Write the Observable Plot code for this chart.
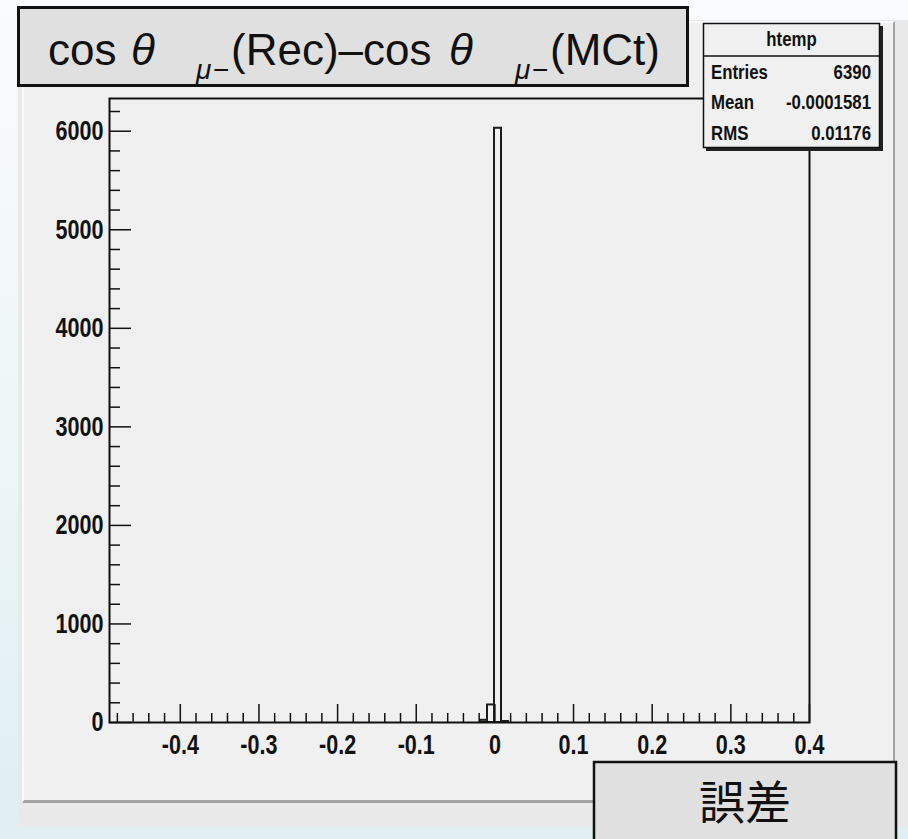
<!DOCTYPE html>
<html>
<head>
<meta charset="utf-8">
<script src="https://cdn.jsdelivr.net/npm/d3@7"></script>
<script src="https://cdn.jsdelivr.net/npm/@observablehq/plot@0.6"></script>
<style>
  html, body { margin: 0; padding: 0; }
  #root {
    position: relative; width: 908px; height: 839px; overflow: hidden;
    background: linear-gradient(to bottom, #f9fbfc 0%, #eef6f8 50%, #dfeef2 100%);
    font-family: "Liberation Sans", Arial, sans-serif;
  }
  #win { position: absolute; left: 18px; top: 20px; width: 890px; height: 807px; background: #e9e9e9; }
  #panel {
    position: absolute; left: 22px; top: 21px; width: 873px; height: 782px; box-sizing: border-box;
    background: #f0f0f0; border-left: 2px solid #fafafa; border-top: 2px solid #fafafa;
    border-right: 2px solid #a4a4a4; border-bottom: 3px solid #a4a4a4;
  }
  #chart { position: absolute; left: 0; top: 0; }
  #deco { position: absolute; left: 0; top: 0; pointer-events: none; }
</style>
</head>
<body>
<div id="root">
  <div id="win"></div>
  <div id="panel"></div>
  <div id="chart"></div>
  <svg id="deco" width="908" height="839"></svg>
</div>
<script>
// ---- data ----
const binLow  = [-0.0183, -0.0094, -0.0005, 0.0084];
const binHigh = [-0.0094, -0.0005,  0.0084, 0.0173];
const binCount = [22, 178, 6030, 10];

const xMajorTicks = [-0.4, -0.3, -0.2, -0.1, 0, 0.1, 0.2, 0.3, 0.4];
const yMajorTicks = [0, 1000, 2000, 3000, 4000, 5000, 6000];

const statsTitle = "htemp";
const statsLabels = ["Entries", "Mean", "RMS"];
const statsValues = ["6390", "-0.0001581", "0.01176"];

const boxLabel = "誤差";

// ---- build ----
const bins = binLow.map((lo, i) => ({x1: lo, x2: binHigh[i], count: binCount[i]}));
const xMinorTicks = d3.range(-48, 41, 2).map(v => v / 100).filter(v => Math.abs(v * 10 - Math.round(v * 10)) > 1e-9);
const yMinorTicks = d3.range(0, 6201, 200).filter(v => v % 1000 !== 0);

const W = 908, H = 839, mL = 109, mT = 98, mR = 99, mB = 117;
const fw = W - mL - mR, fh = H - mT - mB;
const ink = "#111";
const boldFont = '"Liberation Sans", Arial, sans-serif';

function squeeze(el, k) {
  const L = el.getComputedTextLength();
  el.setAttribute("textLength", (L * k).toFixed(2));
  el.setAttribute("lengthAdjust", "spacingAndGlyphs");
}

const chart = Plot.plot({
  width: W, height: H,
  marginLeft: mL, marginTop: mT, marginRight: mR, marginBottom: mB,
  style: { background: "transparent", fontFamily: boldFont, fontSize: "28px", fontWeight: "bold", color: ink },
  x: { domain: [-0.49, 0.40] },
  y: { domain: [0, 6332] },
  marks: [
    Plot.rect(bins, { x1: "x1", x2: "x2", y1: 0, y2: "count", fill: "none", stroke: "#1c1c1c", strokeWidth: 2 }),
    Plot.ruleX(xMinorTicks, { stroke: ink, strokeWidth: 1.5, insetTop: fh - 9 }),
    Plot.ruleX(xMajorTicks, { stroke: ink, strokeWidth: 1.5, insetTop: fh - 18 }),
    Plot.ruleY(yMinorTicks, { stroke: ink, strokeWidth: 1.5, insetRight: fw - 11 }),
    Plot.ruleY(yMajorTicks, { stroke: ink, strokeWidth: 1.5, insetRight: fw - 22 }),
    Plot.frame({ stroke: ink, strokeWidth: 2 }),
    Plot.axisX(xMajorTicks, { label: null, tickSize: 0, tickPadding: 12, tickFormat: d => String(d), fill: ink }),
    Plot.axisY(yMajorTicks, { label: null, tickSize: 0, tickPadding: 6, tickFormat: d => String(d), fill: ink })
  ]
});
document.getElementById("chart").appendChild(chart);
chart.querySelectorAll("text").forEach(t => { if (t.textContent.trim()) squeeze(t, 0.77); });

// ---- decorations: title box, stats box, label box ----
const deco = d3.select("#deco");

// title box
deco.append("rect").attr("x", 18.5).attr("y", 7.5).attr("width", 669).attr("height", 78)
  .attr("fill", "#e0e0e0").attr("stroke", ink).attr("stroke-width", 3);
const tg = deco.append("g").attr("font-family", '"Liberation Sans", Arial, sans-serif').attr("fill", ink);
const titleParts = [
  {t: "cos", x: 48, y: 65, s: 44},
  {t: "θ", x: 131, y: 65, s: 44, i: true},
  {t: "μ", x: 196, y: 79, s: 28, i: true},
  {t: "−", x: 213, y: 79, s: 28},
  {t: "(Rec)–cos", x: 231, y: 65, s: 44},
  {t: "θ", x: 449, y: 65, s: 44, i: true},
  {t: "μ", x: 515, y: 79, s: 28, i: true},
  {t: "−", x: 532, y: 79, s: 28},
  {t: "(MCt)", x: 550, y: 65, s: 44}
];
titleParts.forEach(p => {
  tg.append("text").attr("x", p.x).attr("y", p.y).attr("font-size", p.s)
    .attr("font-style", p.i ? "italic" : "normal").text(p.t);
});

// stats box
deco.append("rect").attr("x", 706).attr("y", 26).attr("width", 177).attr("height", 125).attr("fill", "#222");
deco.append("rect").attr("x", 703.5).attr("y", 23.5).attr("width", 176).attr("height", 124)
  .attr("fill", "#f0f0f0").attr("stroke", ink).attr("stroke-width", 1.5);
deco.append("line").attr("x1", 703.5).attr("x2", 879.5).attr("y1", 56).attr("y2", 56).attr("stroke", ink).attr("stroke-width", 1.5);
const statTexts = [];
statTexts.push(deco.append("text").attr("x", 791.5).attr("y", 39).attr("dy", "0.35em").attr("text-anchor", "middle")
  .attr("font-family", boldFont).attr("font-weight", "bold").attr("font-size", 21).attr("fill", ink).text(statsTitle));
const rowY = [72, 102, 133];
statsLabels.forEach((lab, i) => {
  statTexts.push(deco.append("text").attr("x", 711).attr("y", rowY[i]).attr("dy", "0.35em")
    .attr("font-family", boldFont).attr("font-weight", "bold").attr("font-size", 21).attr("fill", ink).text(lab));
  statTexts.push(deco.append("text").attr("x", 871).attr("y", rowY[i]).attr("dy", "0.35em").attr("text-anchor", "end")
    .attr("font-family", boldFont).attr("font-weight", "bold").attr("font-size", 21).attr("fill", ink).text(statsValues[i]));
});
statTexts.forEach(s => squeeze(s.node(), 0.8));

// bottom-right label box
deco.append("rect").attr("x", 594).attr("y", 762).attr("width", 302).attr("height", 100)
  .attr("fill", "#e0e0e0").attr("stroke", ink).attr("stroke-width", 2.5);
deco.append("text").attr("x", 745).attr("y", 803).attr("dy", "0.35em").attr("text-anchor", "middle")
  .attr("font-family", '"Noto Sans CJK JP", sans-serif').attr("font-size", 46).attr("fill", ink).text(boxLabel);
</script>
</body>
</html>
